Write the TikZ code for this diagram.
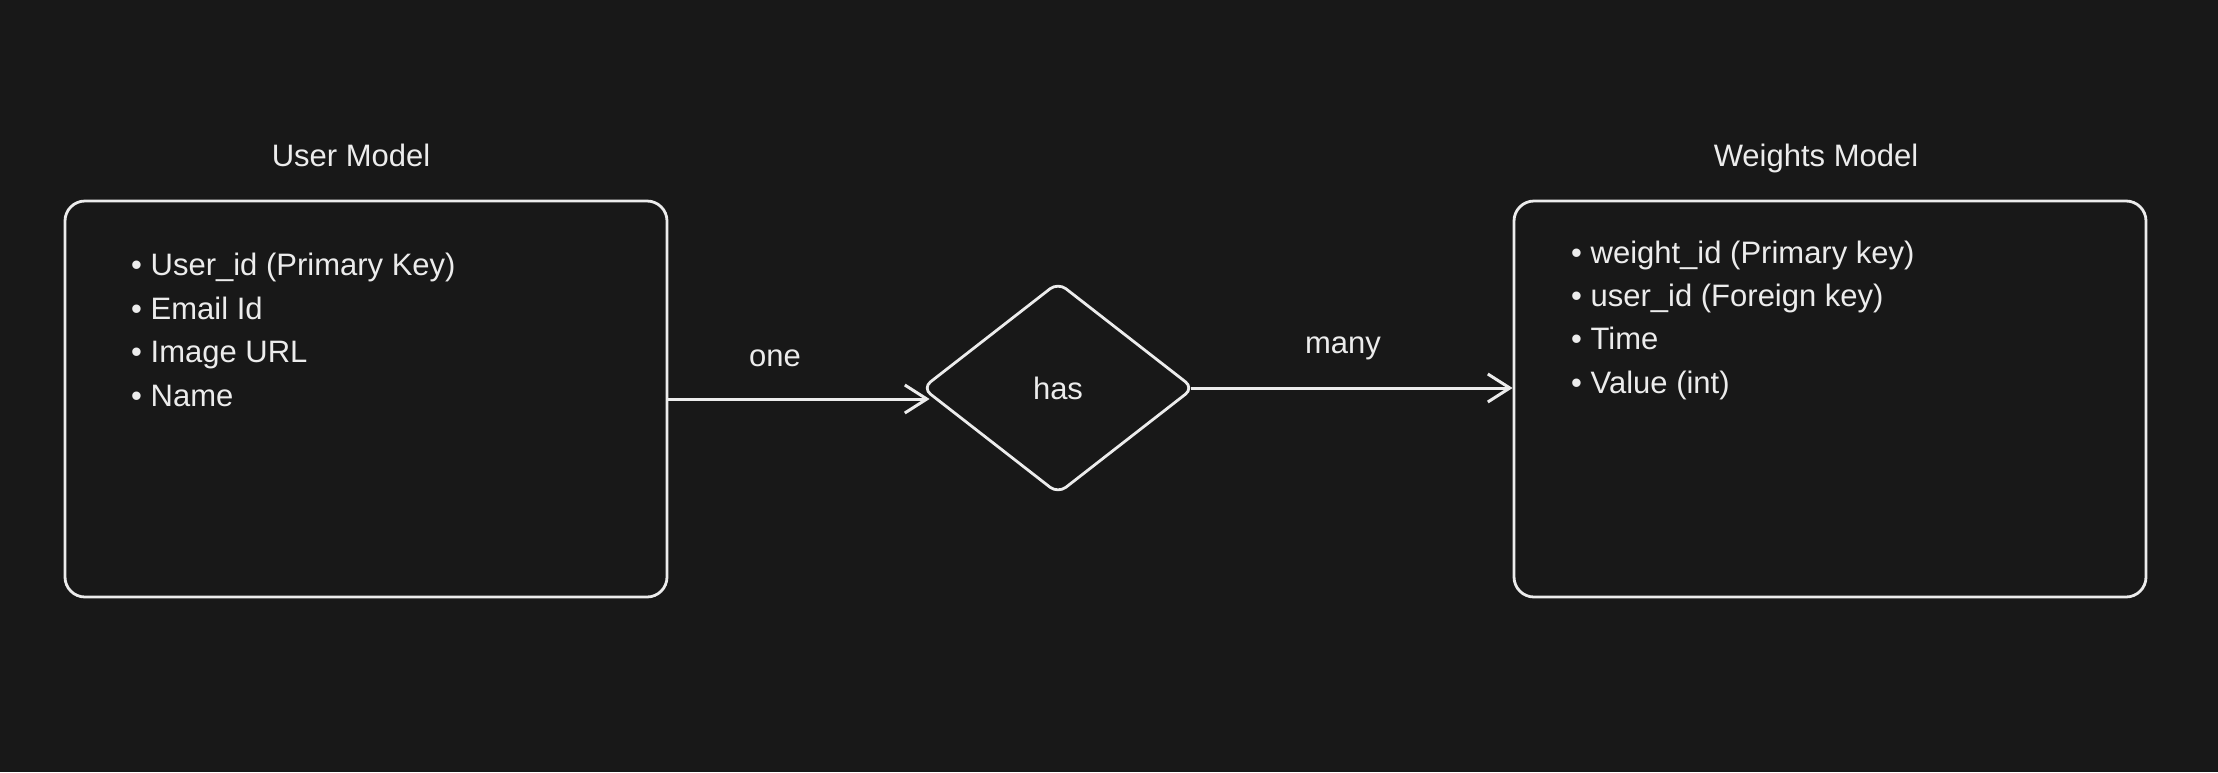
\documentclass[tikz,border=0pt]{standalone}
\usepackage{fontspec}
\setmainfont{Liberation Sans}
\usetikzlibrary{arrows.meta,shapes.geometric}
\definecolor{bgc}{RGB}{24,24,24}
\definecolor{ink}{RGB}{236,236,236}
\tikzset{
  box/.style={draw=ink, line width=2.8pt, rounded corners=20pt, inner sep=0pt},
  rel/.style={diamond, draw=ink, line width=2.8pt, rounded corners=10pt, inner sep=0pt,
    text=ink, font=\fontsize{31}{37}\selectfont},
  item/.style={anchor=base west, inner sep=0pt, text=ink, font=\fontsize{31}{37}\selectfont},
  lbl/.style={anchor=base, inner sep=0pt, text=ink, font=\fontsize{31}{37}\selectfont},
  conn/.style={draw=ink, line width=3pt, -{Straight Barb[length=22pt,width=28pt,line width=3pt]}}
}
\begin{document}
\begin{tikzpicture}[x=1pt,y=-1pt]
\fill[bgc] (0,0) rectangle (2218,772);
\useasboundingbox (0,0) rectangle (2218,772);
% titles
\node[lbl] (tu) at (351,166) {User Model};
\node[lbl] (tw) at (1816,166) {Weights Model};
% boxes
\node[box, minimum width=602pt, minimum height=396pt] (user) at (366,399) {};
\node[box, minimum width=632pt, minimum height=396pt] (weights) at (1830,399) {};
% user items
\node[item] (u1) at (131,275) {• User\_id (Primary Key)};
\node[item] (u2) at (131,319) {• Email Id};
\node[item] (u3) at (131,362) {• Image URL};
\node[item] (u4) at (131,406) {• Name};
% weights items
\node[item] (w1) at (1571,263) {• weight\_id (Primary key)};
\node[item] (w2) at (1571,306) {• user\_id (Foreign key)};
\node[item] (w3) at (1571,349) {• Time};
\node[item] (w4) at (1571,393) {• Value (int)};
% relation
\node[rel, minimum width=272pt, minimum height=212pt] (has) at (1058,388) {has};
% connectors
\coordinate (t1) at ([xshift=9pt]has.west |- user.east);
\coordinate (s2) at ([xshift=-4pt]has.east);
\draw[conn] (user.east) -- (t1);
\draw[conn] (s2) -- (s2 -| weights.west);
\node[lbl] (one) at (775,366) {one};
\node[lbl] (many) at (1343,353) {many};
\end{tikzpicture}
\end{document}
